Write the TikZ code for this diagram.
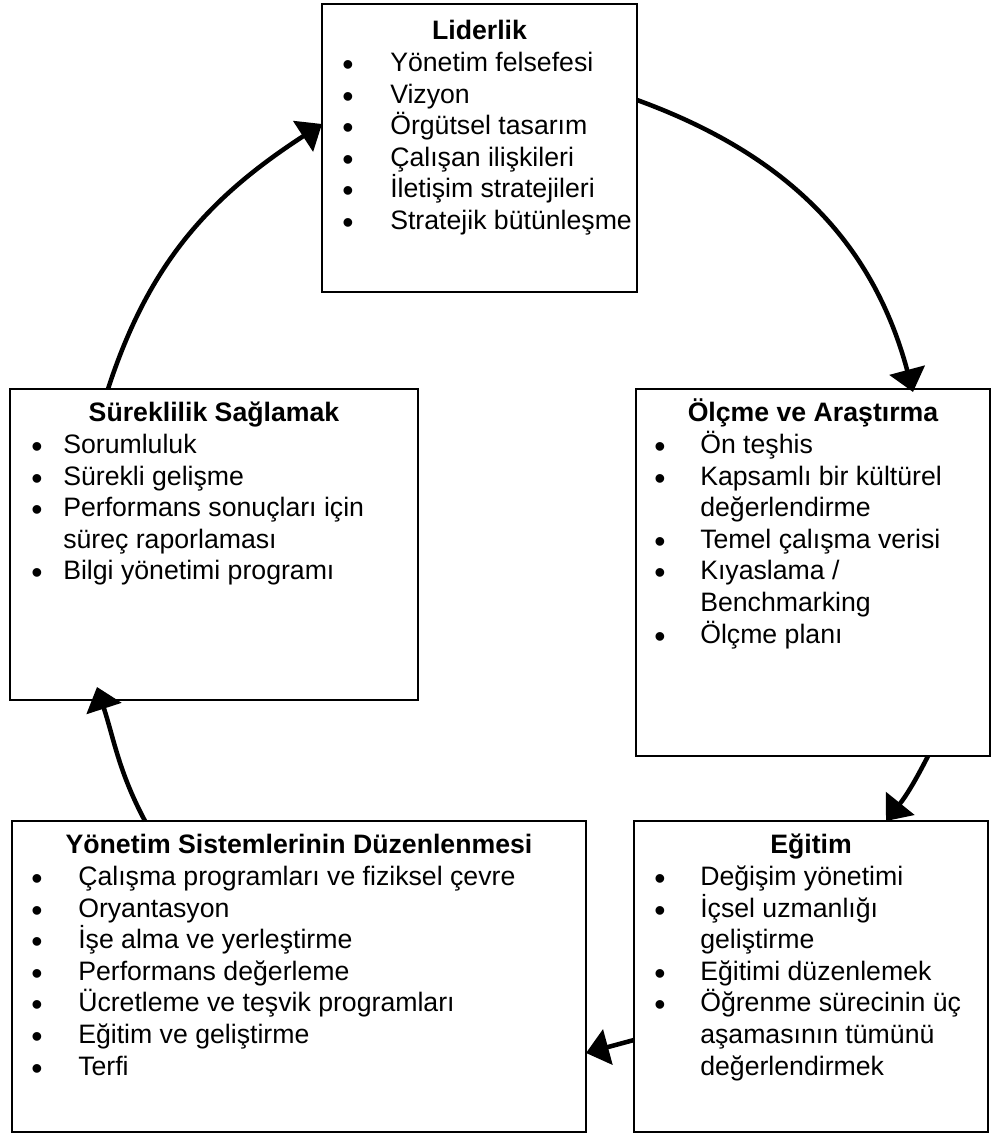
\documentclass[tikz,border=0pt]{standalone}
\usepackage{fontspec}
\setmainfont{Liberation Sans}
\usetikzlibrary{arrows.meta,calc}

\tikzset{
  panel/.style={draw, line width=1.5pt, rectangle, inner sep=0pt, outer sep=0pt, anchor=north west},
  title/.style={font=\fontsize{20}{24}\selectfont\bfseries, inner sep=0pt, anchor=base},
  entry/.style={font=\fontsize{20}{24}\selectfont, inner sep=0pt, anchor=base west},
  dot/.style={font=\fontsize{24}{28}\selectfont, inner sep=0pt, anchor=base, yshift=-3pt},
  flow/.style={line width=3.4pt, -{Triangle[length=17pt,width=27pt]}},
}

% #1 panel name, #2 heading baseline offset, #3 bullet centre offset, #4 text offset,
% #5 heading, #6 lines (1 = bulleted, 0 = continuation)
\newcommand\panelText[6]{%
  \node[title] (#1-t) at ($(#1.north)+(0,-#2)$) {#5};
  \foreach \k/\s [count=\i] in {#6} {
    \node[entry] (#1-\i) at ($(#1.north west)+(#4,-#2-31.6*\i)$) {\s};
    \ifnum\k=1 \node[dot] (#1-b\i) at ($(#1.north west)+(#3,-#2-31.6*\i)$) {•};\fi
  }
}

\begin{document}
\begin{tikzpicture}[x=0.75pt, y=0.75pt]
  \useasboundingbox (0,0) rectangle (995,1133);

  % panels
  \node[panel, minimum width=236.25pt, minimum height=216pt]    (lid) at (322,1129) {};
  \node[panel, minimum width=265.5pt,  minimum height=275.25pt] (olc) at (636,744) {};
  \node[panel, minimum width=306pt,    minimum height=233.25pt] (sur) at (10,744) {};
  \node[panel, minimum width=430.5pt,  minimum height=233.25pt] (yon) at (12,312) {};
  \node[panel, minimum width=265.5pt,  minimum height=233.25pt] (egi) at (634,312) {};

  % panel texts
  \panelText{lid}{36}{26}{68}{Liderlik}{1/Yönetim felsefesi, 1/Vizyon, 1/Örgütsel tasarım, 1/Çalışan ilişkileri, 1/İletişim stratejileri, 1/Stratejik bütünleşme}
  \panelText{olc}{33}{24}{64}{Ölçme ve Araştırma}{1/Ön teşhis, 1/Kapsamlı bir kültürel, 0/değerlendirme, 1/Temel çalışma verisi, 1/{Kıyaslama /}, 0/Benchmarking, 1/Ölçme planı}
  \panelText{sur}{33}{27}{53}{Süreklilik Sağlamak}{1/Sorumluluk, 1/Sürekli gelişme, 1/Performans sonuçları için, 0/süreç raporlaması, 1/Bilgi yönetimi programı}
  \panelText{yon}{33}{25}{66}{Yönetim Sistemlerinin Düzenlenmesi}{1/Çalışma programları ve fiziksel çevre, 1/Oryantasyon, 1/İşe alma ve yerleştirme, 1/Performans değerleme, 1/Ücretleme ve teşvik programları, 1/Eğitim ve geliştirme, 1/Terfi}
  \panelText{egi}{33}{26}{66}{Eğitim}{1/Değişim yönetimi, 1/İçsel uzmanlığı, 0/geliştirme, 1/Eğitimi düzenlemek, 1/Öğrenme sürecinin üç, 0/aşamasının tümünü, 0/değerlendirmek}

  % cycle arrows
  \draw[flow] ($(sur.north west)+(98,0)$) to[out=72, in=213] ($(lid.north west)+(0,-120)$);
  \draw[flow] ($(lid.north east)+(0,-96)$) to[out=-20, in=105] ($(olc.north west)+(277,-3)$);
  \draw[flow] ($(olc.south west)+(292,0)$) to[bend left=6] ($(egi.north west)+(252,0)$);
  \draw[flow] ($(egi.north west)+(0,-219)$) -- ($(yon.north east)+(0,-232)$);
  \draw[flow] ($(yon.north west)+(133,0)$) to[out=118, in=-72] ($(sur.south west)+(87,13)$);
\end{tikzpicture}
\end{document}
